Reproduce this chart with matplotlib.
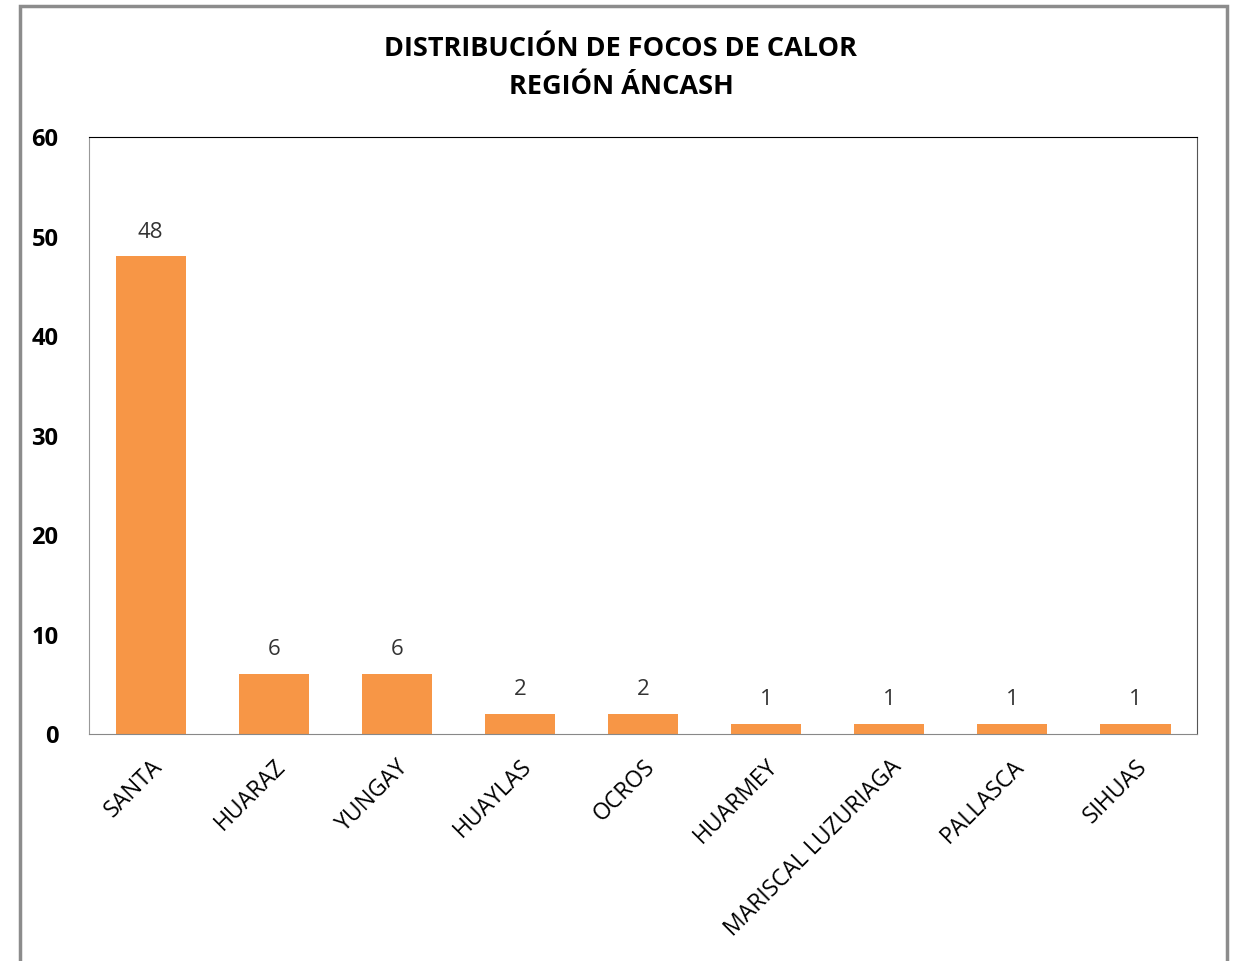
import matplotlib.pyplot as plt
from matplotlib.patches import Rectangle

provincias = ['SANTA', 'HUARAZ', 'YUNGAY', 'HUAYLAS', 'OCROS', 'HUARMEY',
              'MARISCAL LUZURIAGA', 'PALLASCA', 'SIHUAS']
focos = [48, 6, 6, 2, 2, 1, 1, 1, 1]

plt.rcParams['font.family'] = ['Open Sans', 'DejaVu Sans']

fig = plt.figure(figsize=(12.42, 9.61), dpi=100)
ax = fig.add_axes([0.0717, 0.2362, 0.8921, 0.6212])

x = range(len(provincias))
bars = ax.bar(x, focos, width=0.57, color='#F79646')
ax.bar_label(bars, padding=10, fontsize=16, color='#333333')

ax.set_xlim(-0.5, len(provincias) - 0.5)
ax.set_ylim(0, 60)
ax.set_yticks(range(0, 61, 10))
ax.set_xticks(list(x))
ax.set_xticklabels(provincias, rotation=45, ha='right', rotation_mode='anchor', fontsize=16.5)
for lbl in ax.get_yticklabels():
    lbl.set_fontweight('bold')
    lbl.set_fontsize(17)
ax.tick_params(length=0, pad=10)
ax.tick_params(axis='x', pad=15)
ax.tick_params(axis='y', pad=22)

ax.spines['top'].set_color('black')
ax.spines['right'].set_color('#555555')
ax.spines['left'].set_color('#999999')
ax.spines['bottom'].set_color('#888888')

fig.text(0.5, 0.929, 'DISTRIBUCIÓN DE FOCOS DE CALOR\nREGIÓN ÁNCASH', ha='center', va='center',
         fontsize=19.5, fontweight='bold', linespacing=1.6)

fig.patches.append(Rectangle((20 / 1242, -0.01), 1207 / 1242, 1.01 - 6 / 961,
                             transform=fig.transFigure, fill=False, edgecolor='#8c8c8c', linewidth=2.5))

fig.savefig('out.png', dpi=100)
